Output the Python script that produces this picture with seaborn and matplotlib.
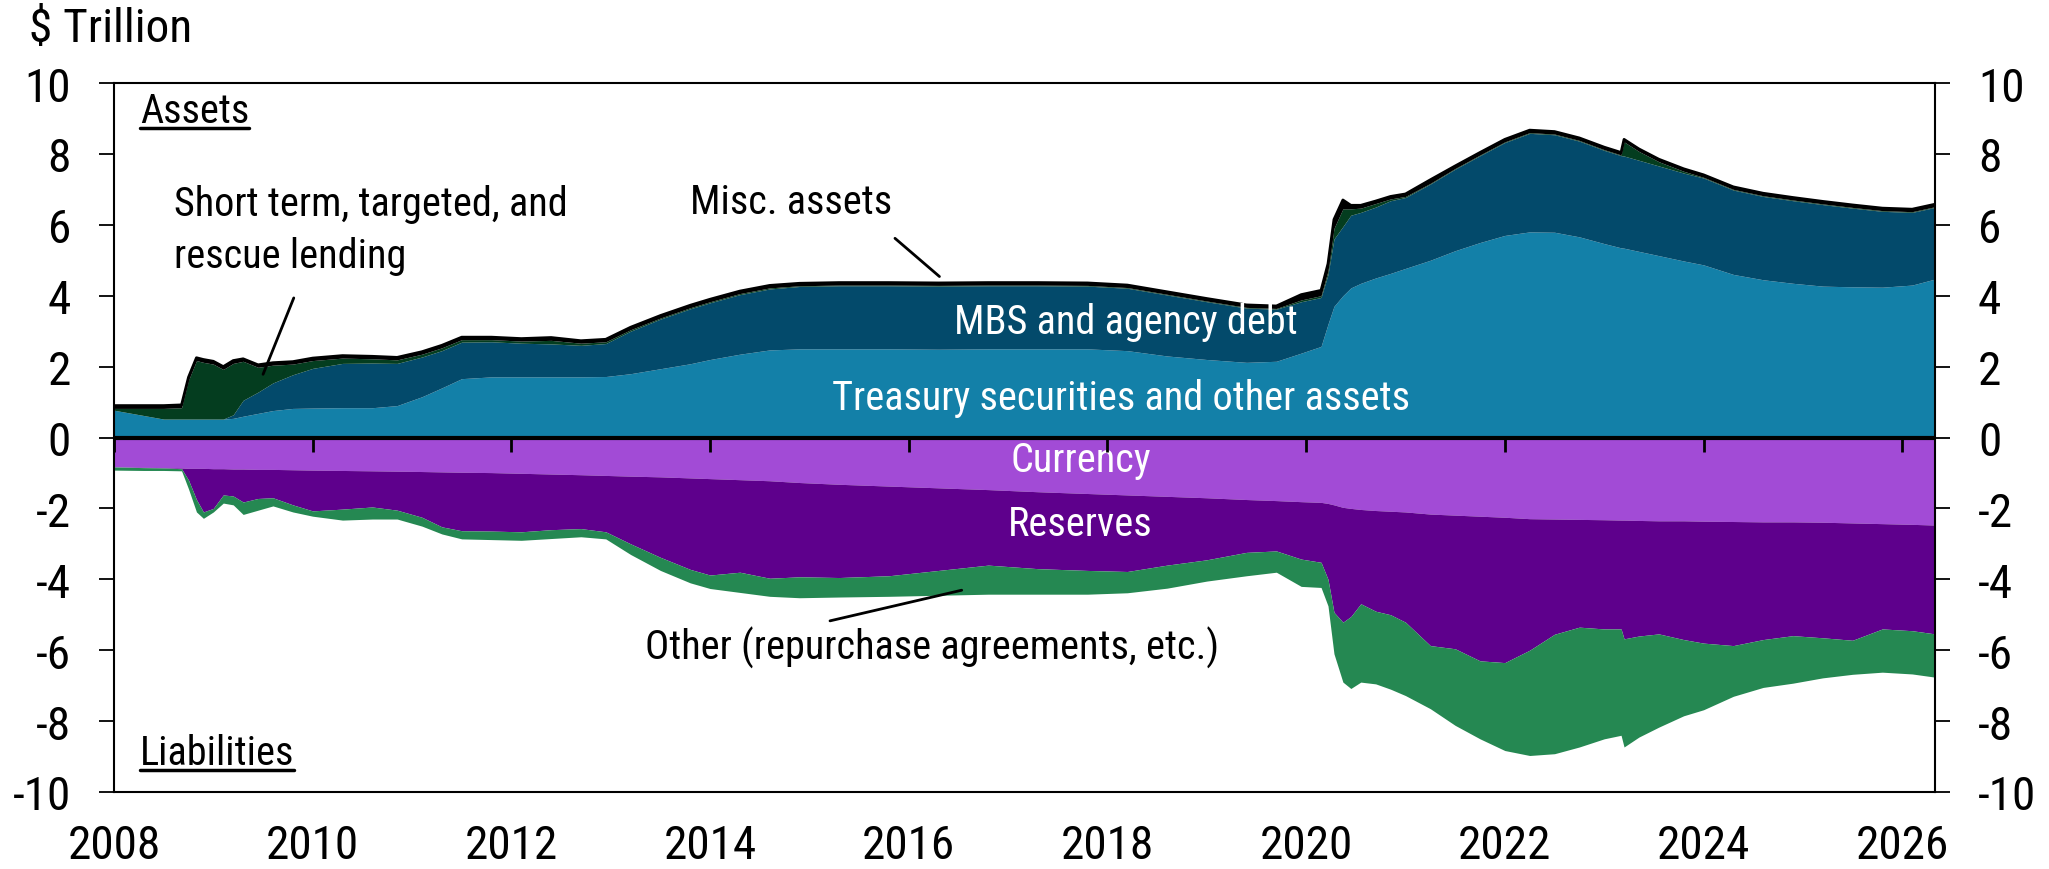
import numpy as np
import matplotlib
matplotlib.use("Agg")
import matplotlib.pyplot as plt
from matplotlib import font_manager
from matplotlib.lines import Line2D
import seaborn as sns

# ---------------- data ($ trillion) ----------------
dates = [2008.0, 2008.3, 2008.5, 2008.68, 2008.75, 2008.83, 2008.9, 2009.0, 2009.1, 2009.2,
         2009.3, 2009.45, 2009.6, 2009.8, 2010.0, 2010.3, 2010.6, 2010.85, 2011.1, 2011.3,
         2011.5, 2011.8, 2012.1, 2012.4, 2012.7, 2012.95, 2013.2, 2013.5, 2013.8, 2014.0,
         2014.3, 2014.6, 2014.9, 2015.3, 2015.8, 2016.3, 2016.8, 2017.3, 2017.8, 2018.2,
         2018.6, 2019.0, 2019.4, 2019.7, 2019.95, 2020.15, 2020.22, 2020.28, 2020.37, 2020.45,
         2020.55, 2020.7, 2020.85, 2021.0, 2021.25, 2021.5, 2021.75, 2022.0, 2022.25, 2022.5,
         2022.75, 2023.0, 2023.17, 2023.2, 2023.35, 2023.55, 2023.8, 2024.0, 2024.3, 2024.6,
         2024.9, 2025.2, 2025.5, 2025.8, 2026.1, 2026.33]

treasury = [0.77, 0.62, 0.52, 0.52, 0.52, 0.52, 0.52, 0.52, 0.52, 0.54,
            0.60, 0.68, 0.76, 0.82, 0.83, 0.84, 0.84, 0.90, 1.15, 1.40,
            1.66, 1.71, 1.71, 1.71, 1.71, 1.72, 1.80, 1.94, 2.08, 2.20,
            2.35, 2.47, 2.50, 2.50, 2.50, 2.49, 2.50, 2.50, 2.50, 2.45,
            2.30, 2.20, 2.12, 2.15, 2.38, 2.57, 3.20, 3.70, 4.00, 4.22,
            4.35, 4.50, 4.63, 4.77, 5.00, 5.27, 5.50, 5.70, 5.80, 5.79,
            5.66, 5.47, 5.35, 5.34, 5.25, 5.13, 4.98, 4.87, 4.60, 4.45,
            4.35, 4.27, 4.25, 4.24, 4.30, 4.47]

mbs = [0.0, 0.0, 0.0, 0.0, 0.0, 0.0, 0.0, 0.0, 0.0, 0.10,
       0.45, 0.60, 0.78, 0.95, 1.12, 1.25, 1.26, 1.19, 1.12, 1.05,
       1.03, 0.99, 0.95, 0.93, 0.89, 0.93, 1.20, 1.40, 1.55, 1.60,
       1.68, 1.72, 1.76, 1.78, 1.78, 1.78, 1.78, 1.78, 1.77, 1.76,
       1.72, 1.63, 1.53, 1.47, 1.45, 1.38, 1.40, 1.90, 1.95, 2.05,
       2.00, 2.00, 2.05, 2.00, 2.15, 2.30, 2.45, 2.62, 2.78, 2.75,
       2.70, 2.63, 2.60, 2.60, 2.57, 2.53, 2.48, 2.45, 2.38, 2.35,
       2.33, 2.30, 2.22, 2.14, 2.05, 2.02]

lending = [0.05, 0.20, 0.30, 0.32, 1.10, 1.65, 1.60, 1.55, 1.40, 1.45,
           1.10, 0.70, 0.50, 0.30, 0.22, 0.15, 0.12, 0.10, 0.08, 0.08,
           0.07, 0.06, 0.06, 0.10, 0.06, 0.05, 0.04, 0.03, 0.03, 0.03,
           0.03, 0.03, 0.02, 0.02, 0.02, 0.02, 0.02, 0.02, 0.02, 0.02,
           0.02, 0.02, 0.02, 0.02, 0.05, 0.05, 0.10, 0.30, 0.50, 0.18,
           0.12, 0.10, 0.05, 0.03, 0.02, 0.02, 0.02, 0.02, 0.02, 0.02,
           0.02, 0.02, 0.02, 0.40, 0.25, 0.12, 0.05, 0.02, 0.02, 0.02,
           0.02, 0.02, 0.02, 0.02, 0.02, 0.02]

misc = [0.08, 0.08, 0.08, 0.08, 0.08, 0.08, 0.08, 0.08, 0.08, 0.08,
        0.07, 0.07, 0.07, 0.07, 0.07, 0.07, 0.07, 0.07, 0.07, 0.07,
        0.07, 0.07, 0.07, 0.08, 0.07, 0.07, 0.07, 0.07, 0.07, 0.07,
        0.07, 0.07, 0.07, 0.07, 0.07, 0.07, 0.07, 0.07, 0.07, 0.07,
        0.07, 0.07, 0.07, 0.07, 0.15, 0.15, 0.20, 0.25, 0.25, 0.10,
        0.08, 0.07, 0.07, 0.07, 0.10, 0.07, 0.07, 0.07, 0.07, 0.07,
        0.07, 0.07, 0.07, 0.07, 0.07, 0.07, 0.07, 0.07, 0.07, 0.07,
        0.07, 0.07, 0.07, 0.07, 0.07, 0.07]

currency = [0.83, 0.84, 0.85, 0.86, 0.87, 0.87, 0.87, 0.88, 0.88, 0.89,
            0.89, 0.90, 0.90, 0.91, 0.92, 0.93, 0.94, 0.95, 0.96, 0.97,
            0.98, 0.99, 1.01, 1.03, 1.05, 1.07, 1.09, 1.11, 1.14, 1.16,
            1.19, 1.22, 1.27, 1.32, 1.37, 1.42, 1.47, 1.53, 1.58, 1.62,
            1.66, 1.70, 1.75, 1.78, 1.81, 1.83, 1.86, 1.90, 1.97, 2.00,
            2.03, 2.06, 2.08, 2.10, 2.16, 2.19, 2.22, 2.25, 2.29, 2.30,
            2.31, 2.32, 2.33, 2.33, 2.34, 2.35, 2.35, 2.36, 2.37, 2.38,
            2.38, 2.39, 2.41, 2.43, 2.45, 2.47]

reserves = [0.00, 0.01, 0.01, 0.02, 0.33, 0.88, 1.23, 1.12, 0.74, 0.76,
            0.93, 0.82, 0.80, 0.99, 1.15, 1.09, 1.02, 1.10, 1.29, 1.55,
            1.65, 1.65, 1.65, 1.57, 1.52, 1.59, 1.91, 2.27, 2.58, 2.72,
            2.61, 2.75, 2.66, 2.63, 2.53, 2.33, 2.13, 2.17, 2.17, 2.16,
            1.94, 1.75, 1.49, 1.42, 1.62, 1.69, 2.14, 3.03, 3.24, 3.05,
            2.66, 2.84, 2.92, 3.11, 3.71, 3.77, 4.08, 4.10, 3.71, 3.25,
            3.04, 3.08, 3.07, 3.35, 3.26, 3.19, 3.35, 3.44, 3.50, 3.32,
            3.21, 3.26, 3.31, 2.97, 3.00, 3.07]

other = [0.09, 0.08, 0.07, 0.06, 0.25, 0.35, 0.18, 0.10, 0.23, 0.25,
         0.35, 0.33, 0.23, 0.20, 0.15, 0.31, 0.34, 0.25, 0.25, 0.20,
         0.23, 0.24, 0.24, 0.25, 0.23, 0.20, 0.30, 0.37, 0.38, 0.38,
         0.57, 0.51, 0.59, 0.55, 0.58, 0.70, 0.82, 0.72, 0.67, 0.60,
         0.65, 0.60, 0.66, 0.60, 0.77, 0.71, 0.75, 1.17, 1.69, 2.03,
         2.21, 2.05, 2.10, 2.07, 1.78, 2.16, 2.20, 2.48, 2.97, 3.37,
         3.38, 3.10, 3.00, 3.05, 2.85, 2.63, 2.15, 1.88, 1.43, 1.35,
         1.34, 1.13, 0.96, 1.22, 1.22, 1.22]

year_ticks = [2008, 2010, 2012, 2014, 2016, 2018, 2020, 2022, 2024, 2026]
value_ticks = [-10, -8, -6, -4, -2, 0, 2, 4, 6, 8, 10]

# ---------------- styling ----------------
sns.set_style("ticks")

# look for a narrow / condensed sans font, else Liberation Sans
fam, stretch = "Liberation Sans", "normal"
entries = font_manager.fontManager.ttflist
prefs = ["Liberation Sans Narrow", "Arial Narrow", "Nimbus Sans Narrow", "Roboto Condensed",
         "Open Sans Condensed"]
found = False
for p in prefs:
    for f in entries:
        if f.name == p:
            fam, stretch, found = p, "normal", True
            break
    if found:
        break
if not found:
    for f in entries:
        if ("Condensed" in f.fname or "Narrow" in f.fname) and f.style == "normal" \
                and f.weight in (400, "normal", "regular") and "Sans" in f.name:
            fam = f.name
            stretch = f.stretch if not isinstance(f.stretch, str) else f.stretch
            found = True
            break

plt.rcParams["font.family"] = [fam, "DejaVu Sans"]
plt.rcParams["font.stretch"] = stretch
plt.rcParams["axes.unicode_minus"] = False
plt.rcParams.update({"text.color": "black", "xtick.color": "black", "ytick.color": "black",
                     "xtick.labelcolor": "black", "ytick.labelcolor": "black",
                     "axes.edgecolor": "black", "axes.labelcolor": "black"})

narrow = found
TICK_FS = 34 if narrow else 31
ANN_FS = 29 if narrow else 26

C_TSY = "#1380A8"
C_MBS = "#034A6B"
C_LEND = "#043D1F"
C_MISC = "#000000"
C_CUR = "#A24BD6"
C_RES = "#5E008C"
C_OTH = "#258852"

fig = plt.figure(figsize=(20.49, 8.70), dpi=100)
ax = fig.add_axes([114 / 2049, 77 / 870, (1935 - 114) / 2049, (793 - 84) / 870])

x = np.array(dates)
ax.stackplot(x, np.array(treasury), np.array(mbs), np.array(lending), np.array(misc),
             colors=[C_TSY, C_MBS, C_LEND, C_MISC], linewidth=0)
ax.stackplot(x, -np.array(currency), -np.array(reserves), -np.array(other),
             colors=[C_CUR, C_RES, C_OTH], linewidth=0)

total_assets = np.array(treasury) + np.array(mbs) + np.array(lending) + np.array(misc)
sns.lineplot(x=x, y=total_assets, ax=ax, color="black", linewidth=2.0)

ax.axhline(0, color="black", linewidth=3, zorder=5)
# year tick marks on the zero line, pointing down
ax.vlines(year_ticks, -0.4, 0, color="black", linewidth=2, zorder=6)

ax.set_xlim(2008, 2026.33)
ax.set_ylim(-10, 10)
ax.set_yticks(value_ticks)
ax.set_yticklabels([str(v) for v in value_ticks])
ax.set_xticks(year_ticks)
ax.set_xticklabels([str(v) for v in year_ticks])
ax.set_xlabel("")
ax.set_ylabel("")

ax.tick_params(axis="y", which="both", left=True, right=True, labelleft=True, labelright=True,
               direction="out", length=11, width=1.3, labelsize=TICK_FS, pad=20)
ax.tick_params(axis="x", which="both", bottom=True, length=0, labelsize=TICK_FS, pad=22)
for s in ax.spines.values():
    s.set_visible(True)
    s.set_color("black")
    s.set_linewidth(1.5)

# ---------------- labels ----------------
fig.text(29 / 2049, 1 - 29 / 870, "$ Trillion", fontsize=TICK_FS, ha="left", va="center")

ax.text(2008.6, 6.27, "Short term, targeted, and", fontsize=ANN_FS, ha="left", va="baseline")
ax.text(2008.6, 4.81, "rescue lending", fontsize=ANN_FS, ha="left", va="baseline")
ax.annotate("", xy=(2009.49, 1.71), xytext=(2009.82, 4.01),
            arrowprops=dict(arrowstyle="-", color="black", lw=2))

ax.text(2014.82, 6.66, "Misc. assets", fontsize=ANN_FS, ha="center", va="center")
ax.annotate("", xy=(2016.33, 4.49), xytext=(2015.84, 5.67),
            arrowprops=dict(arrowstyle="-", color="black", lw=2))

ax.text(2018.19, 3.27, "MBS and agency debt", fontsize=ANN_FS, ha="center", va="center", color="white")
ax.text(2018.14, 1.13, "Treasury securities and other assets", fontsize=ANN_FS, ha="center",
        va="center", color="white")
ax.text(2017.73, -0.62, "Currency", fontsize=ANN_FS, ha="center", va="center", color="white")
ax.text(2017.73, -2.43, "Reserves", fontsize=ANN_FS, ha="center", va="center", color="white")

ax.text(2016.23, -5.9, "Other (repurchase agreements, etc.)", fontsize=ANN_FS, ha="center", va="center")
ax.annotate("", xy=(2016.56, -4.29), xytext=(2015.18, -5.19),
            arrowprops=dict(arrowstyle="-", color="black", lw=2))

t_assets = ax.text(2008.26, 9.23, "Assets", fontsize=ANN_FS, ha="left", va="center")
t_liab = ax.text(2008.26, -8.89, "Liabilities", fontsize=ANN_FS, ha="left", va="center")

fig.savefig("out.png", dpi=100)  # first draw to get text extents
renderer = fig.canvas.get_renderer()
inv = fig.transFigure.inverted()
for t in (t_assets, t_liab):
    bb = t.get_window_extent(renderer=renderer)
    (x0, y0), (x1, y1) = inv.transform([(bb.x0, bb.y0), (bb.x1, bb.y0)])
    yline = y0 + 2 / 870
    fig.add_artist(Line2D([x0, x1], [yline, yline], transform=fig.transFigure,
                          color="black", linewidth=2.5))

fig.savefig("out.png", dpi=100)
